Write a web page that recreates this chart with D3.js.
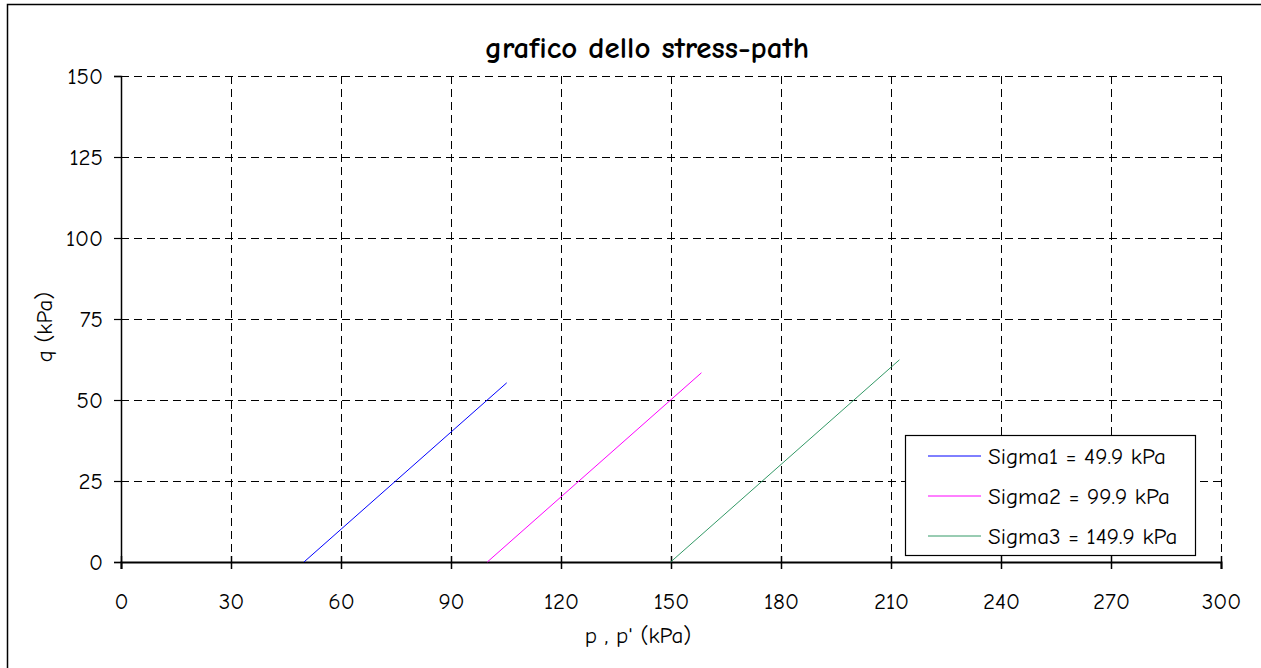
<!DOCTYPE html>
<html>
<head>
<meta charset="utf-8">
<script src="https://cdn.jsdelivr.net/npm/d3@7"></script>
<style>
  html, body { margin: 0; padding: 0; background: #fff; }
  svg { display: block; }
  text { font-family: "Comic Sans MS", "Comic Neue", "Noto Sans", "DejaVu Sans", sans-serif; fill: #000; }
</style>
</head>
<body>
<svg id="chart" width="1261" height="668"></svg>
<script>
// ---- data ----
const chartTitle = "grafico dello stress-path";
const xLabel = "p , p' (kPa)";
const yLabel = "q (kPa)";
const xTicks = [0, 30, 60, 90, 120, 150, 180, 210, 240, 270, 300];
const yTicks = [0, 25, 50, 75, 100, 125, 150];
const seriesNames = ["Sigma1 = 49.9 kPa", "Sigma2 = 99.9 kPa", "Sigma3 = 149.9 kPa"];
const seriesColors = ["#0000ff", "#ff00ff", "#339966"];
const sigma1P = [49.9, 105.2];
const sigma1Q = [0, 55.3];
const sigma2P = [99.9, 158.3];
const sigma2Q = [0, 58.4];
const sigma3P = [149.9, 212.3];
const sigma3Q = [0, 62.4];
const seriesP = [sigma1P, sigma2P, sigma3P];
const seriesQ = [sigma1Q, sigma2Q, sigma3Q];

// ---- layout ----
const svg = d3.select("#chart");
const pLeft = 121, pRight = 1221, pTop = 76, pBottom = 562;
const fs = 23;

const x = d3.scaleLinear().domain([0, 300]).range([pLeft, pRight]);
const y = d3.scaleLinear().domain([0, 150]).range([pBottom, pTop]);

// outer frame
svg.append("rect")
  .attr("x", 7.5).attr("y", 4.5)
  .attr("width", 1270).attr("height", 700)
  .attr("fill", "none").attr("stroke", "#000").attr("stroke-width", 1.5);

// grid
const grid = svg.append("g");
grid.selectAll("line.v").data(xTicks.filter(d => d > 0)).join("line")
  .attr("x1", d => Math.round(x(d)) + 0.5).attr("x2", d => Math.round(x(d)) + 0.5)
  .attr("y1", pTop).attr("y2", pBottom)
  .attr("stroke", "#000").attr("stroke-width", 1).attr("stroke-dasharray", "8,5");
grid.selectAll("line.h").data(yTicks.filter(d => d > 0)).join("line")
  .attr("x1", pLeft).attr("x2", pRight)
  .attr("y1", d => Math.round(y(d)) + 0.5).attr("y2", d => Math.round(y(d)) + 0.5)
  .attr("stroke", "#000").attr("stroke-width", 1).attr("stroke-dasharray", "8,5");

// axes
const xAxis = d3.axisBottom(x).tickValues(xTicks).tickSize(7).tickPadding(24).tickFormat(d3.format("d"));
const gx = svg.append("g").attr("transform", `translate(0,${pBottom})`).call(xAxis);
gx.attr("font-family", null);
gx.select(".domain").attr("stroke-width", 2);
gx.selectAll(".tick line").attr("stroke-width", 1.5).attr("y1", -6);
gx.selectAll("text").attr("font-size", fs).attr("fill", "#000");

const yAxis = d3.axisLeft(y).tickValues(yTicks).tickSize(7).tickPadding(11).tickFormat(d3.format("d"));
const gy = svg.append("g").attr("transform", `translate(${pLeft},0)`).call(yAxis);
gy.attr("font-family", null);
gy.select(".domain").attr("stroke-width", 1.5);
gy.selectAll(".tick line").attr("stroke-width", 1.2);
gy.selectAll("text").attr("font-size", fs).attr("fill", "#000");

// series
const lineGen = d3.line().x(d => x(d[0])).y(d => y(d[1]));
seriesP.forEach((ps, i) => {
  const pts = ps.map((p, k) => [p, seriesQ[i][k]]);
  svg.append("path")
    .attr("d", lineGen(pts))
    .attr("fill", "none")
    .attr("stroke", seriesColors[i])
    .attr("stroke-width", 1);
});

// title and labels
svg.append("text").attr("x", 647).attr("y", 58)
  .attr("text-anchor", "middle").attr("font-size", 31).attr("font-weight", "bold")
  .text(chartTitle);
svg.append("text").attr("x", 638).attr("y", 643)
  .attr("text-anchor", "middle").attr("font-size", fs)
  .text(xLabel);
svg.append("text")
  .attr("transform", "translate(52,327) rotate(-90)")
  .attr("text-anchor", "middle").attr("font-size", fs)
  .text(yLabel);

// legend
const lg = svg.append("g");
lg.append("rect").attr("x", 905.5).attr("y", 435.5).attr("width", 290).attr("height", 120)
  .attr("fill", "#fff").attr("stroke", "#000").attr("stroke-width", 1.2);
seriesNames.forEach((name, i) => {
  const yy = 456 + i * 40;
  lg.append("line").attr("x1", 928).attr("x2", 981).attr("y1", yy).attr("y2", yy)
    .attr("stroke", seriesColors[i]).attr("stroke-width", 1);
  lg.append("text").attr("x", 988).attr("y", yy + 8).attr("font-size", fs).text(name);
});
</script>
</body>
</html>
